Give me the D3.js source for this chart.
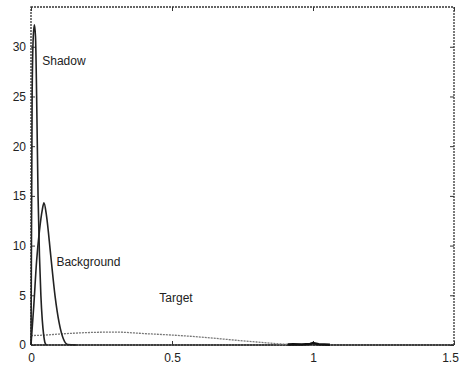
<!DOCTYPE html>
<html>
<head>
<meta charset="utf-8">
<script src="https://cdn.jsdelivr.net/npm/d3@7"></script>
<style>
  body { margin: 0; background: #fff; }
  text { font-family: "Liberation Sans", Arial, sans-serif; fill: #222; }
</style>
</head>
<body>
<svg width="460" height="366"></svg>
<script>
// curves
var shadowX = [0, 0.004, 0.008, 0.012, 0.016, 0.02, 0.025, 0.03, 0.035, 0.04, 0.045, 0.05, 0.055];
var shadowY = [0, 25, 31, 32.2, 31, 25, 15, 9, 5, 2.5, 1, 0.2, 0];

var backX = [0, 0.01, 0.02, 0.03, 0.04, 0.046, 0.055, 0.07, 0.085, 0.1, 0.115, 0.13, 0.16];
var backY = [0, 4, 8.5, 11.5, 13.6, 14.3, 13, 9, 5, 2.2, 0.6, 0.05, 0];

var targetX = [0, 0.05, 0.1, 0.2, 0.3, 0.4, 0.5, 0.6, 0.7, 0.8, 0.85, 0.9, 0.95, 1.0];
var targetY = [0.95, 1.0, 1.1, 1.25, 1.3, 1.15, 1.0, 0.8, 0.55, 0.3, 0.18, 0.08, 0.02, 0];

var noiseX = [0.91, 0.93, 0.96, 0.99, 1.0, 1.02, 1.04, 1.06];
var noiseY = [0.05, 0.08, 0.06, 0.1, 0.2, 0.08, 0.06, 0.03];

var xTicks = [0, 0.5, 1, 1.5];
var xTickLabels = ['0', '0.5', '1', '1.5'];
var yTicks = [0, 5, 10, 15, 20, 25, 30];

var svg = d3.select('svg'),
    margin = {top: 7, right: 6, bottom: 21, left: 31},
    width = +svg.attr('width') - margin.left - margin.right,
    height = +svg.attr('height') - margin.top - margin.bottom;

var x = d3.scaleLinear().domain([0, 1.5]).range([0, width]);
var y = d3.scaleLinear().domain([0, 34]).range([height, 0]);

var g = svg.append('g').attr('transform', 'translate(' + margin.left + ',' + margin.top + ')');

var line = d3.line()
  .x(function(d) { return x(d[0]); })
  .y(function(d) { return y(d[1]); });

function pairs(xs, ys) {
  return xs.map(function(v, i) { return [v, ys[i]]; });
}

// frame
g.append('rect')
  .attr('width', width).attr('height', height)
  .attr('fill', 'none').attr('stroke', '#333').attr('stroke-width', 1.3)
  .attr('stroke-dasharray', '2,1');

// axes with inward ticks
var xAxis = g.append('g').attr('transform', 'translate(0,' + height + ')')
  .call(d3.axisBottom(x).tickValues(xTicks).tickSize(-4).tickPadding(8)
    .tickFormat(function(d, i) { return xTickLabels[i]; }));
var xTop = g.append('g')
  .call(d3.axisTop(x).tickValues(xTicks).tickSize(-4).tickFormat(''));
var yAxis = g.append('g')
  .call(d3.axisLeft(y).tickValues(yTicks).tickSize(-4).tickPadding(5));
var yRight = g.append('g').attr('transform', 'translate(' + width + ',0)')
  .call(d3.axisRight(y).tickValues(yTicks).tickSize(-4).tickFormat(''));

[xAxis, xTop, yAxis, yRight].forEach(function(a) {
  a.select('.domain').remove();
  a.selectAll('line').attr('stroke', '#333');
  a.selectAll('text').style('font-size', '12px').attr('fill', '#222')
    .style('font-family', '"Liberation Sans", Arial, sans-serif');
});
// last x label sits at the right edge
xAxis.selectAll('.tick').filter(function(d) { return d === 1.5; })
  .select('text').attr('dx', -4);

// zero baseline
g.append('path')
  .datum([[0, 0], [1.5, 0]])
  .attr('d', line).attr('fill', 'none')
  .attr('stroke', '#333').attr('stroke-width', 1.5);

g.append('path')
  .datum(pairs(targetX, targetY))
  .attr('d', line.curve(d3.curveMonotoneX)).attr('fill', 'none')
  .attr('stroke', '#777').attr('stroke-width', 1.3)
  .attr('stroke-dasharray', '2,1');

g.append('path')
  .datum(pairs(noiseX, noiseY))
  .attr('d', line.curve(d3.curveLinear)).attr('fill', 'none')
  .attr('stroke', '#111').attr('stroke-width', 2.5);

g.append('path')
  .datum(pairs(backX, backY))
  .attr('d', line.curve(d3.curveMonotoneX)).attr('fill', 'none')
  .attr('stroke', '#222').attr('stroke-width', 1.6);

g.append('path')
  .datum(pairs(shadowX, shadowY))
  .attr('d', line.curve(d3.curveMonotoneX)).attr('fill', 'none')
  .attr('stroke', '#222').attr('stroke-width', 1.6);

// labels
var labels = [
  {text: 'Shadow', x: 0.04, y: 28.2},
  {text: 'Background', x: 0.09, y: 7.9},
  {text: 'Target', x: 0.455, y: 4.3}
];
g.selectAll('.lbl').data(labels).enter().append('text')
  .attr('class', 'lbl')
  .attr('x', function(d) { return x(d.x); })
  .attr('y', function(d) { return y(d.y); })
  .style('font-size', '12px')
  .text(function(d) { return d.text; });
</script>
</body>
</html>
